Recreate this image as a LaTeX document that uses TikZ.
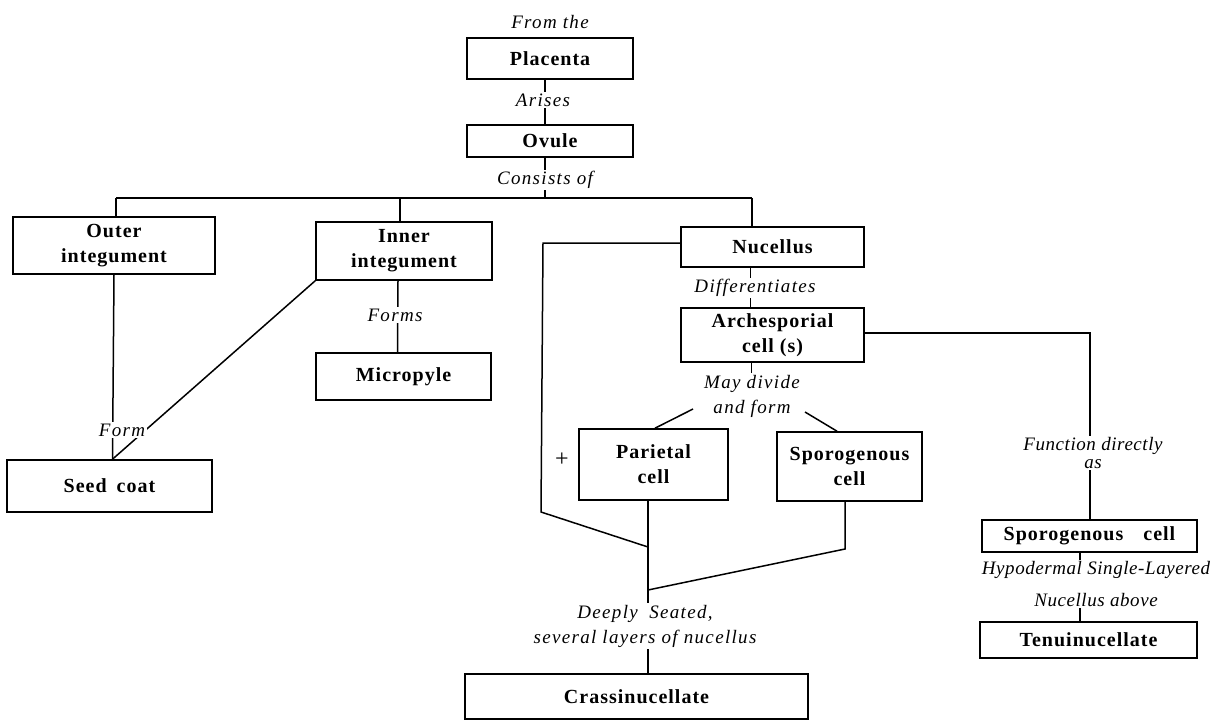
\documentclass[tikz,border=0pt]{standalone}
\usepackage{fontspec}
\setmainfont{Liberation Serif}
\newfontfamily\boxface{Liberation Serif}[LetterSpace=5]
\newfontfamily\noteface{Liberation Serif}[LetterSpace=7]
\newfontfamily\notetight{Liberation Serif}[LetterSpace=3]
\begin{document}
\begin{tikzpicture}[x=1pt,y=-1pt,
  box/.style={draw, line width=1.6pt, align=center, inner sep=0pt,
    font=\boxface\bfseries\fontsize{20}{25}\selectfont},
  note/.style={fill=white, inner sep=1.5pt, align=center,
    font=\noteface\itshape\fontsize{19}{25}\selectfont},
  link/.style={line width=1.5pt}]
\useasboundingbox (0,0) rectangle (1220,723);

% boxes
\node[box, minimum width=166pt, minimum height=41pt] (placenta) at (550,58.5) {Placenta};
\node[box, minimum width=166pt, minimum height=32pt] (ovule) at (550,141) {Ovule};
\node[box, minimum width=202pt, minimum height=57pt] (outer) at (114,245.5) {Outer\\integument};
\node[box, minimum width=176pt, minimum height=58pt] (inner) at (404,251) {Inner\\integument};
\node[box, minimum width=175pt, minimum height=47pt] (micro) at (403.5,376.5) {Micropyle};
\node[box, minimum width=205pt, minimum height=52pt] (seed) at (109.5,486) {Seed\hspace{0.5em}coat};
\node[box, minimum width=183pt, minimum height=40pt] (nucellus) at (772.5,247) {Nucellus};
\node[box, minimum width=183pt, minimum height=54pt] (arch) at (772.5,335) {Archesporial\\cell (s)};
\node[box, minimum width=149pt, minimum height=71pt] (parietal) at (653.5,464.5) {Parietal\\cell};
\node[box, minimum width=145pt, minimum height=69pt] (sporo) at (849.5,466.5) {Sporogenous\\cell};
\node[box, minimum width=215pt, minimum height=32pt] (sporocell) at (1089.5,536) {Sporogenous\hspace{1em}cell};
\node[box, minimum width=217pt, minimum height=36pt] (tenui) at (1088.5,640) {Tenuinucellate};
\node[box, minimum width=343pt, minimum height=45pt] (crassi) at (636.5,696.5) {Crassinucellate};

% junction points
\coordinate (hubL) at (116,198);
\coordinate (hubI) at (400,198);
\coordinate (hubR) at (752,198);
\coordinate (loopA) at (543,243);
\coordinate (loopB) at (541,512);
\coordinate (jp1) at (648,547);
\coordinate (jp2) at (648,590);
\coordinate (spb) at (845,549);
\coordinate (dl) at (693,409);
\coordinate (dr) at (805,412);
\coordinate (ar) at (1090,333);

% connectors
\draw[link] ([xshift=-5pt]placenta.south) -- ([xshift=-5pt]ovule.north);
\draw[link] ([xshift=-5pt]ovule.south) -- ([xshift=-5pt]ovule.south |- hubL);
\draw[link] (hubL) -- (hubR);
\draw[link] (hubL) -- (hubL |- outer.north);
\draw[link] (hubI) -- (hubI |- inner.north);
\draw[link] (hubR) -- (hubR |- nucellus.north);
\draw[link] (outer.south) -- ([xshift=3pt]seed.north);
\draw[link] (inner.south west) -- ([xshift=3pt]seed.north);
\draw[link] ([xshift=-6pt]inner.south) -- ([xshift=-6pt]micro.north);
\draw[link] ([xshift=-22pt]nucellus.south) -- ([xshift=-22pt]arch.north);
\draw[link] ([yshift=4pt]nucellus.west) -- (loopA) -- (loopB) -- (jp1);
\draw[link] ([xshift=-5.5pt]parietal.south) -- ([xshift=-5.5pt]parietal.south |- crassi.north);
\draw[link] ([xshift=-4.5pt]sporo.south) -- (spb) -- (jp2);
\draw[link] ([xshift=-21pt]arch.south) -- ++(0,12);
\draw[link] (dl) -- ([xshift=1.5pt]parietal.north);
\draw[link] (dr) -- ([xshift=-12.5pt]sporo.north);
\draw[link] ([yshift=2pt]arch.east) -- (ar) -- (ar |- sporocell.north);
\draw[link] ([xshift=-9.5pt]sporocell.south) -- ([xshift=-8.5pt]tenui.north);

% connector labels
\node[note] (fromthe) at (550,22) {From the};
\node[note] (arises) at (543,100) {Arises};
\node[note] (consists) at (545,180) {Consists of};
\node[note] (forms) at (395,315) {Forms};
\node[note] (form) at (122,430) {Form};
\node[note] (diff) at (755,288) {Differentiates};
\node[note] (maydiv) at (752,396) {May divide\\and form};
\node[note, font=\notetight\itshape\fontsize{19}{18}\selectfont] (func) at (1093,453) {Function directly\\as};
\node[note, font=\notetight\itshape\fontsize{19}{25}\selectfont] (hypo) at (1096,584) {Hypodermal Single-Layered\\[7pt]Nucellus above};
\node[note] (deep) at (645,626) {Deeply\hspace{0.6em}Seated,\\several layers of nucellus};
\node[font=\fontsize{24}{24}\selectfont] (plus) at (562,460) {+};
\end{tikzpicture}
\end{document}
